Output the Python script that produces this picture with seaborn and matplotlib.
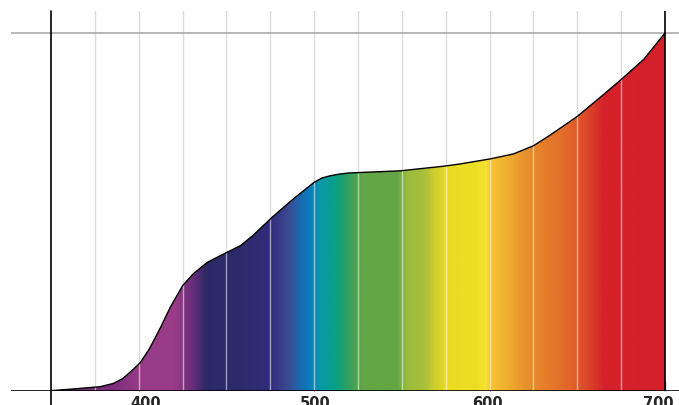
import numpy as np
import matplotlib
matplotlib.use("Agg")
import matplotlib.pyplot as plt
import matplotlib.transforms as mtransforms
import seaborn as sns
import pandas as pd
from matplotlib.colors import LinearSegmentedColormap

# curve (wavelength in nm, relative value)
wavelength_nm = [350, 361, 378, 385.5, 391, 397, 401, 406, 412, 418, 425, 431, 439,
                 444.5, 451, 458, 465, 473, 476, 488, 500, 504.5, 509, 514.5, 520,
                 549, 574, 583, 600, 613.5, 625, 634, 650, 663, 675, 688, 700]
relative_value = [0.001, 0.005, 0.012, 0.021, 0.035, 0.061, 0.080, 0.117, 0.173,
                  0.234, 0.294, 0.327, 0.359, 0.373, 0.389, 0.406, 0.434, 0.471,
                  0.485, 0.536, 0.583, 0.595, 0.601, 0.606, 0.609, 0.615, 0.628,
                  0.634, 0.648, 0.662, 0.685, 0.713, 0.767, 0.820, 0.870, 0.927, 1.0]

tick_values = [400, 500, 600, 700]
grid_values = list(range(375, 700, 25))

# spectrum colour stops for the fill
spectrum_nm = [350, 385, 400, 420, 430, 438, 458, 475, 485, 492, 497, 503, 512, 518,
               527, 547, 553, 563, 568, 575, 592, 598, 600, 610, 620, 630, 640, 650,
               660, 665, 700]
spectrum_hex = ["#6a2a6e", "#7e2c7c", "#963c88", "#9a3c88", "#6a2e7a", "#2c2a66",
                "#2e2b6c", "#332d7a", "#3c4a94", "#1a6aae", "#0a7cba", "#0898a8",
                "#08a088", "#2aa064", "#62a646", "#62a646", "#9cbc3c", "#a8c03a",
                "#cccc30", "#e8dc22", "#ecde22", "#f6e236", "#f6c632", "#eeae30",
                "#e8922e", "#e6802a", "#e4702a", "#e05a2a", "#d8382a", "#d4222a",
                "#d4202a"]

df = pd.DataFrame({"wavelength": wavelength_nm, "value": relative_value})

sns.set_style("white")
plt.rcParams["font.family"] = ["DejaVu Sans"]

fig = plt.figure(figsize=(6.79, 4.06), dpi=100)
ax = fig.add_axes([11 / 679, 14 / 406, 668 / 679, 380 / 406])

x0, x1 = spectrum_nm[0], spectrum_nm[-1]
ax.set_xlim(350 - 40 / 1.7543, 700 + 14 / 1.7543)
ax.set_ylim(0, 380 / 358)

# light grey grid behind everything
for g in grid_values:
    ax.axvline(g, color="#dcdcdc", lw=1, zorder=0)

# gradient fill clipped to the area under the curve
poly = ax.fill_between(df["wavelength"], 0, df["value"], color="none", zorder=1)
cmap = LinearSegmentedColormap.from_list(
    "spec", [((w - x0) / (x1 - x0), c) for w, c in zip(spectrum_nm, spectrum_hex)], N=512)
grad = np.linspace(0, 1, 700).reshape(1, -1)
img = ax.imshow(grad, cmap=cmap, extent=[x0, x1, 0, 1.0], aspect="auto",
                origin="lower", zorder=1, interpolation="bilinear")
clip = poly.get_paths()[0]
img.set_clip_path(clip, transform=ax.transData)

# pale lines over the fill
for g in grid_values:
    ln = ax.axvline(g, color="white", lw=1, alpha=0.55, zorder=2)
    ln.set_clip_path(clip, transform=ax.transData)

sns.lineplot(data=df, x="wavelength", y="value", ax=ax, color="black", lw=1, zorder=4)

ax.axhline(1.0, color="#aaaaaa", lw=1.2, zorder=3)
ax.axhline(0, color="black", lw=1.2, zorder=5)
ax.axvline(350, ymin=-0.04, ymax=1, color="black", lw=1.2, zorder=5, clip_on=False)
ax.axvline(700, color="black", lw=1.2, zorder=5)

for s in ax.spines.values():
    s.set_visible(False)
ax.set_xticks(tick_values)
ax.set_xticklabels([str(t) for t in tick_values], fontweight="bold", fontsize=10.5)
ax.tick_params(axis="x", direction="in", length=7, width=1, color="#666666",
               pad=3, bottom=True)
# labels in the reference sit slightly off their ticks
for lab, dx in zip(ax.get_xticklabels(), [7, 1, -2, -7]):
    lab.set_transform(lab.get_transform() + mtransforms.ScaledTranslation(dx / 100, 0, fig.dpi_scale_trans))
ax.set_yticks([])
ax.set_xlabel("")
ax.set_ylabel("")

fig.savefig("out.png", dpi=100)
